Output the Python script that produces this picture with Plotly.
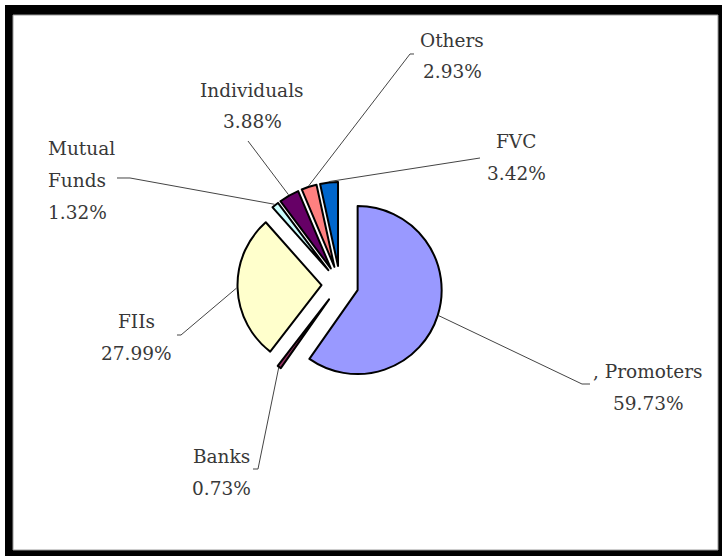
import math
import plotly.graph_objects as go

# ---------------- data ----------------
labels = ["Promoters", "Banks", "FIIs", "Mutual Funds", "Individuals", "Others", "FVC"]
values = [59.73, 0.73, 27.99, 1.32, 3.88, 2.93, 3.42]
label_text = [[", Promoters"], ["Banks"], ["FIIs"], ["Mutual", "Funds"],
              ["Individuals"], ["Others"], ["FVC"]]

# ---------------- style / layout ----------------
colors = ["#9999FF", "#993366", "#FFFFCC", "#CCFFFF", "#660066", "#FF8080", "#0066CC"]
W, H = 722, 556
PIE_CX, PIE_CY = 340, 284.5      # pixel centre of pie box
BOX = 205                        # pixel size of pie domain box
PULL = 0.22
FONT = dict(family="DejaVu Serif", size=18.5, color="#383838")
LINE_GAP = 32

# label block: (x, first-line centre y, xanchor)
label_pos = [
    (648, 371, "center"),
    (221, 456, "center"),
    (136, 321, "center"),
    (46, 148, "left"),
    (252, 90, "center"),
    (452, 40, "center"),
    (516, 141, "center"),
]
# leader line start points near the text (pixels)
leader_start = [
    [(590, 384), (582, 384)],
    [(253, 469), (258, 469)],
    [(177, 335), (181, 335)],
    [(117, 178), (130, 178)],
    [(248, 141)],
    [(414, 54), (410, 54)],
    [(480, 158)],
]


def px2paper(x, y):
    return x / W, 1 - y / H


x0, _ = px2paper(PIE_CX - BOX / 2, 0)
x1, _ = px2paper(PIE_CX + BOX / 2, 0)
_, y1 = px2paper(0, PIE_CY - BOX / 2)
_, y0 = px2paper(0, PIE_CY + BOX / 2)

fig = go.Figure(go.Pie(
    labels=labels,
    values=values,
    sort=False,
    direction="clockwise",
    rotation=0,
    pull=[PULL] * len(values),
    marker=dict(colors=colors, line=dict(color="black", width=2)),
    textinfo="none",
    hoverinfo="label+percent",
    showlegend=False,
    domain=dict(x=[x0, x1], y=[y0, y1]),
))

# geometry of the pie as plotly computes it
R = (BOX / 2) / (1 + PULL)
D = PULL * R
total = sum(values)

shapes = []
# frame
shapes.append(dict(type="rect", xref="paper", yref="paper", layer="below",
                   x0=5 / W, x1=1, y0=0, y1=1 - 5 / H,
                   fillcolor="black", line=dict(width=0)))
shapes.append(dict(type="rect", xref="paper", yref="paper", layer="below",
                   x0=13 / W, x1=718 / W, y0=1 - 550 / H, y1=1 - 15 / H,
                   fillcolor="white", line=dict(color="#9a9a9a", width=1)))

annotations = []
cum = 0.0
for i, v in enumerate(values):
    mid = (cum + v / 2) / total * 2 * math.pi
    cum += v
    ex = PIE_CX + (R + D + 1) * math.sin(mid)
    ey = PIE_CY - (R + D + 1) * math.cos(mid)
    pts = leader_start[i] + [(ex, ey)]
    path = ""
    for k, (px, py) in enumerate(pts):
        qx, qy = px2paper(px, py)
        path += ("M" if k == 0 else " L") + f" {qx:.5f} {qy:.5f}"
    shapes.append(dict(type="path", xref="paper", yref="paper", path=path,
                       line=dict(color="#444444", width=1)))

    lx, ly, anchor = label_pos[i]
    lines = label_text[i] + [f"{v:.2f}%"]
    for j, t in enumerate(lines):
        qx, qy = px2paper(lx, ly + j * LINE_GAP)
        annotations.append(dict(x=qx, y=qy, xref="paper", yref="paper",
                                text=t, showarrow=False, xanchor=anchor,
                                yanchor="middle", font=FONT))

fig.update_layout(
    width=W, height=H,
    margin=dict(l=0, r=0, t=0, b=0),
    paper_bgcolor="white",
    plot_bgcolor="white",
    shapes=shapes,
    annotations=annotations,
)

fig.write_html("out.html")
